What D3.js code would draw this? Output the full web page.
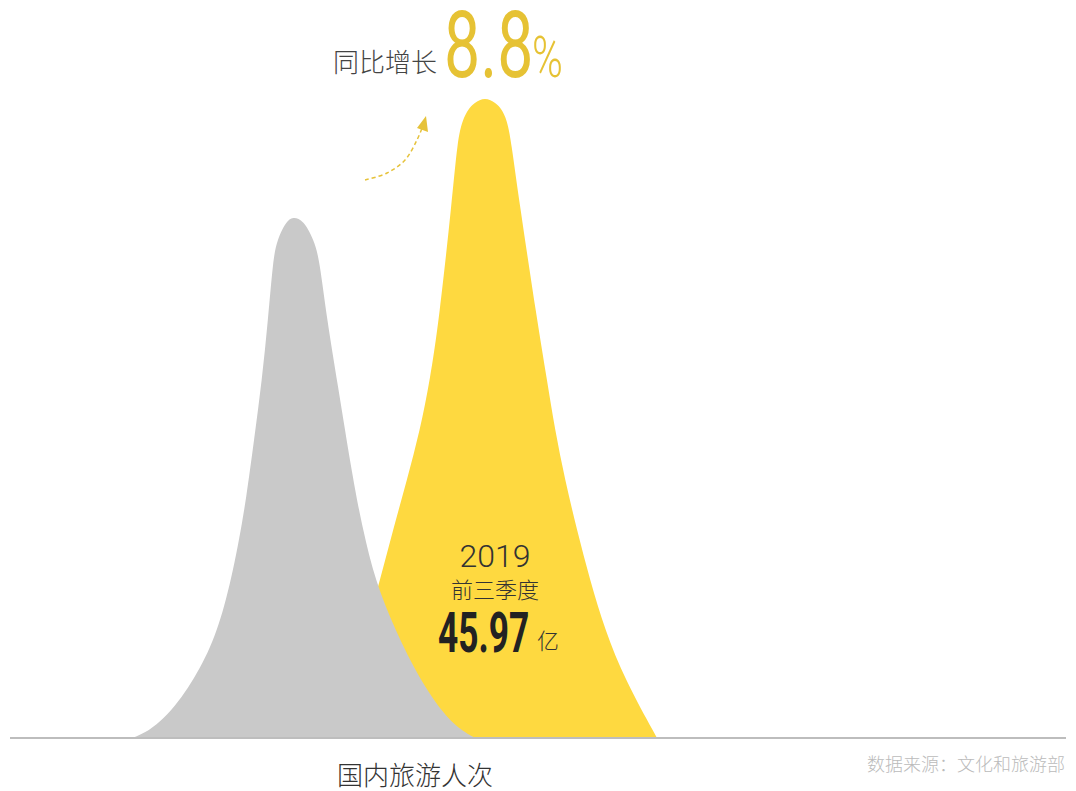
<!DOCTYPE html>
<html><head><meta charset="utf-8">
<script src="https://cdn.jsdelivr.net/npm/d3@7/dist/d3.min.js"></script>
<style>
html,body{margin:0;padding:0;background:#fff;}
svg{display:block;}
text{font-family:"Noto Sans CJK SC","Noto Sans",sans-serif;}
</style></head>
<body>
<script>
// ---- data ----
const categories = ["2018 前三季度", "2019 前三季度"];
const seriesValues = [42.25, 45.97];          // 亿人次
const growthRate = 8.8;                        // %
// shape profiles: [x position unit, relative height]
const grayCurve = [[11.55,0],[12.78,0.78],[14.20,2.50],[15.63,4.99],[16.86,7.80],[17.99,10.92],[18.94,14.04],[19.79,17.78],[20.45,21.53],[21.12,26.21],[21.69,30.89],[22.35,37.13],[23.11,46.49],[23.86,55.85],[24.43,65.21],[24.91,74.57],[25.28,77.69],[26.23,80.81],[26.89,81.28],[27.75,80.81],[28.79,77.69],[29.31,74.57],[30.02,65.21],[30.97,55.85],[32.48,40.25],[33.43,32.45],[34.56,24.65],[36.46,16.85],[38.83,9.05],[41.00,3.90],[42.42,1.56],[44.03,0]];
const yellowCurve = [[30.30,0],[32.20,7.49],[33.71,16.85],[35.04,24.65],[36.27,32.45],[37.59,40.25],[38.83,48.05],[39.77,55.85],[40.63,65.21],[41.86,83.93],[42.38,93.29],[42.85,96.41],[43.42,98.13],[43.94,99.06],[44.98,100],[46.02,99.06],[46.54,98.13],[47.06,96.41],[47.44,93.29],[48.20,83.93],[49.91,65.21],[50.85,55.85],[51.61,48.05],[52.56,40.25],[53.69,32.45],[54.92,24.65],[56.34,16.85],[58.24,9.05],[61.27,0]];
const arrowPath = [[33.62,87.05],[35.70,88.14],[37.41,90.17],[38.54,93.29],[39.02,95.16]];
const title = "国内旅游人次";
const source = "数据来源：文化和旅游部";

const W = 1076, H = 791;
const svg = d3.select("body").append("svg").attr("width", W).attr("height", H);

const x = d3.scaleLinear().domain([0, 100]).range([10, 1066]);
const y = d3.scaleLinear().domain([0, 100]).range([738, 97]);

const area = d3.area()
  .x(d => x(d[0])).y0(y(0)).y1(d => y(d[1]))
  .curve(d3.curveBasis);

svg.append("path").datum(yellowCurve).attr("d", area).attr("fill", "#fed940");
svg.append("path").datum(grayCurve).attr("d", area).attr("fill", "#c9c9c9");

// baseline axis
svg.append("line").attr("x1", x(0)).attr("x2", x(100)).attr("y1", y(0)).attr("y2", y(0))
  .attr("stroke", "#bdbdbd").attr("stroke-width", 2);

// dashed arrow
const line = d3.line().x(d => x(d[0])).y(d => y(d[1])).curve(d3.curveCatmullRom.alpha(0.5));
svg.append("path").datum(arrowPath).attr("d", line)
  .attr("fill", "none").attr("stroke", "#e6c23a").attr("stroke-width", 1.5)
  .attr("stroke-dasharray", "4,3");
{
  const tip = [426, 116];
  svg.append("path")
    .attr("d", `M${tip[0]},${tip[1]} L${tip[0]+2},${tip[1]+16} L${tip[0]-9},${tip[1]+12} Z`)
    .attr("fill", "#e6c23a");
}

// top annotation
svg.append("text").attr("x", 333).attr("y", 72).attr("font-size", 26).attr("font-weight", 300).attr("fill", "#444")
  .text("同比增长");
svg.append("text").attr("transform", "translate(444,77) scale(0.7,1)")
  .style("font-family", "Roboto").attr("font-weight", 400).attr("font-size", 92)
  .attr("fill", "#e6c234").text(growthRate.toFixed(1));
svg.append("text").attr("transform", "translate(532,77) scale(0.72,1)")
  .style("font-family", "Roboto").attr("font-weight", 300).attr("font-size", 58)
  .attr("fill", "#e6c234").text("%");

// inner label
const cx = 495;
svg.append("text").attr("x", cx).attr("y", 567).attr("text-anchor", "middle")
  .style("font-family", "Roboto").attr("font-weight", 300).attr("font-size", 32).attr("fill", "#333")
  .text(categories[1].split(" ")[0]);
svg.append("text").attr("x", cx).attr("y", 598).attr("text-anchor", "middle")
  .attr("font-size", 22).attr("font-weight", 300).attr("fill", "#333").text(categories[1].split(" ")[1]);
svg.append("text").attr("transform", "translate(438,652) scale(0.63,1)")
  .style("font-family", "Roboto").attr("font-weight", 700).attr("font-size", 56).attr("fill", "#222")
  .text(seriesValues[1].toFixed(2));
svg.append("text").attr("x", 537).attr("y", 649).attr("font-size", 22).attr("font-weight", 300).attr("fill", "#333").text("亿");

// bottom texts
svg.append("text").attr("x", 415).attr("y", 785).attr("text-anchor", "middle")
  .attr("font-size", 26).attr("font-weight", 300).attr("fill", "#333").text(title);
svg.append("text").attr("x", 1065).attr("y", 771).attr("text-anchor", "end")
  .attr("font-size", 18).attr("font-weight", 300).attr("fill", "#bbb").text(source);
</script>
</body></html>
